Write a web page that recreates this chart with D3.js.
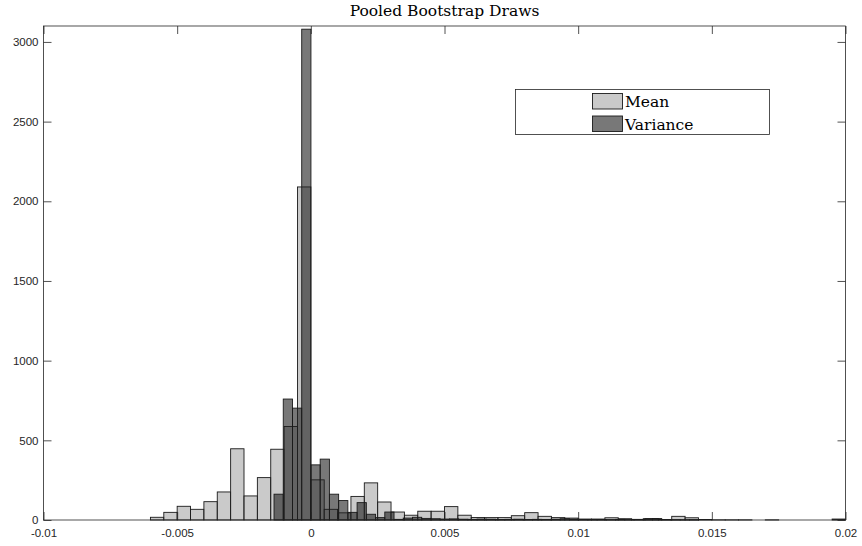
<!DOCTYPE html>
<html><head><meta charset="utf-8">
<script src="https://cdn.jsdelivr.net/npm/d3@7/dist/d3.min.js"></script>
<style>body{margin:0;background:#fff}</style></head>
<body>
<svg id="c" width="862" height="546"></svg>
<script>
// ---- data ----
const meanBinStart = -0.006;
const meanBinWidth = 0.0005;
const meanCounts = [17,48,86,67,115,176,447,151,266,444,587,2090,252,67,45,148,233,113,50,30,55,55,84,30,16,15,15,27,46,23,15,12,6,6,14,8,4,8,3,23,14,3,1,1,1,0,1,0,0,0,0,6];
const varBinStart = -0.001377;
const varBinWidth = 0.0003453;
const varCounts = [162,759,702,3080,346,382,162,122,48,109,36,15,50,4,12,17,10,8,6,7,5,4,6,5,3,4,5,3,4,3,5,8,6,3,2,3,2,4,2,3,8,9,3,2,1,2];
const xTicks = [-0.01,-0.005,0,0.005,0.01,0.015,0.02];
const xTickLabels = ["-0.01","-0.005","0","0.005","0.01","0.015","0.02"];
const yTicks = [0,500,1000,1500,2000,2500,3000];
const yTickLabels = ["0","500","1000","1500","2000","2500","3000"];
const seriesNames = ["Mean","Variance"];
const titleText = "Pooled Bootstrap Draws";

// ---- layout ----
const L = 43.5, R = 845.5, T = 26, B = 520;
const svg = d3.select("#c");
const x = d3.scaleLinear().domain([-0.01, 0.02]).range([L, R]);
const y = d3.scaleLinear().domain([0, 3100]).range([B, T]);

const meanBins = meanCounts.map((c, i) => ({x0: meanBinStart + i*meanBinWidth, x1: meanBinStart + (i+1)*meanBinWidth, c}));
const varBins = varCounts.map((c, i) => ({x0: varBinStart + i*varBinWidth, x1: varBinStart + (i+1)*varBinWidth, c}));

const styles = [
  {fill: "#a6a6a6", op: 0.6},
  {fill: "#1e1e1e", op: 0.6}
];

function drawBars(bins, st) {
  svg.append("g").selectAll("rect").data(bins.filter(d => d.c > 0)).join("rect")
    .attr("x", d => x(d.x0)).attr("width", d => x(d.x1) - x(d.x0))
    .attr("y", d => y(d.c)).attr("height", d => B - y(d.c))
    .attr("fill", st.fill).attr("fill-opacity", st.op)
    .attr("stroke", "#1a1a1a").attr("stroke-width", 0.9);
}
drawBars(meanBins, styles[0]);
drawBars(varBins, styles[1]);

// ---- axes ----
const font = "'Liberation Sans', Arial, sans-serif";
const xb = svg.append("g").attr("transform", `translate(0,${B})`)
  .call(d3.axisBottom(x).tickValues(xTicks).tickFormat((d,i) => xTickLabels[i]).tickSize(-8).tickPadding(8.5));
const xt = svg.append("g").attr("transform", `translate(0,${T})`)
  .call(d3.axisTop(x).tickValues(xTicks).tickFormat("").tickSize(-8));
const yl = svg.append("g").attr("transform", `translate(${L},0)`)
  .call(d3.axisLeft(y).tickValues(yTicks).tickFormat((d,i) => yTickLabels[i]).tickSize(-8).tickPadding(5));
const yr = svg.append("g").attr("transform", `translate(${R},0)`)
  .call(d3.axisRight(y).tickValues(yTicks).tickFormat("").tickSize(-8));
[xb, xt, yl, yr].forEach(g => {
  g.select(".domain").remove();
  g.selectAll(".tick line").attr("stroke", "#262626").attr("stroke-width", 0.8);
  g.selectAll(".tick text").attr("fill", "#262626").style("font-family", font).style("font-size", "11.5px");
});
// box
svg.append("rect").attr("x", L).attr("y", T).attr("width", R - L).attr("height", B - T)
  .attr("fill", "none").attr("stroke", "#262626").attr("stroke-width", 0.8);

// ---- title ----
svg.append("text").attr("x", (L + R) / 2).attr("y", 16).attr("text-anchor", "middle")
  .style("font-family", "'DejaVu Serif', serif").style("font-size", "15.5px").attr("fill", "#000")
  .text(titleText);

// ---- legend ----
const lg = svg.append("g");
lg.append("rect").attr("x", 515.5).attr("y", 89.5).attr("width", 254).attr("height", 45)
  .attr("fill", "#fff").attr("stroke", "#262626").attr("stroke-width", 0.8);
seriesNames.forEach((n, i) => {
  const yy = 93.5 + i * 22.5;
  lg.append("rect").attr("x", 592.5).attr("y", yy).attr("width", 30).attr("height", 15.5)
    .attr("fill", styles[i].fill).attr("fill-opacity", styles[i].op)
    .attr("stroke", "#1a1a1a").attr("stroke-width", 0.9);
  lg.append("text").attr("x", 625).attr("y", yy + 13.5)
    .style("font-family", "'DejaVu Serif', serif").style("font-size", "15.5px").attr("fill", "#000")
    .text(n);
});
</script>
</body></html>
